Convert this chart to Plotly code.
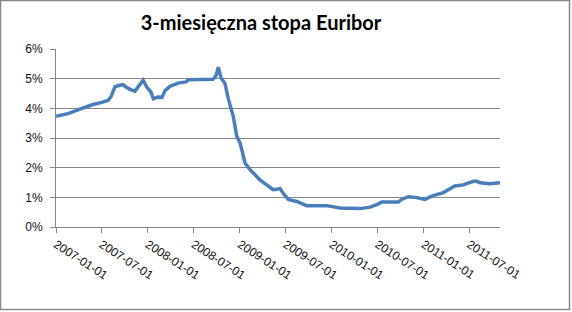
import plotly.graph_objects as go

# ---- data ----
dates = [
    "2007-01-01", "2007-02-18", "2007-04-06", "2007-05-28", "2007-07-03",
    "2007-07-27", "2007-08-08", "2007-08-15", "2007-08-23", "2007-09-04",
    "2007-09-24", "2007-10-06", "2007-10-22", "2007-11-11", "2007-11-27",
    "2007-12-13", "2007-12-29", "2008-01-13", "2008-01-23", "2008-02-10",
    "2008-02-26", "2008-03-09", "2008-03-29", "2008-04-30", "2008-05-31",
    "2008-06-10", "2008-07-26", "2008-09-16", "2008-09-28", "2008-10-07",
    "2008-10-18", "2008-11-02", "2008-11-16", "2008-11-29", "2008-12-05",
    "2008-12-19", "2009-01-01", "2009-01-08", "2009-01-21", "2009-02-10",
    "2009-03-02", "2009-03-21", "2009-04-17", "2009-05-13", "2009-05-28",
    "2009-06-09", "2009-06-22", "2009-07-12", "2009-08-14", "2009-09-23",
    "2009-12-12", "2010-02-02", "2010-04-23", "2010-06-02", "2010-06-28",
    "2010-07-18", "2010-09-22", "2010-10-05", "2010-11-01", "2010-12-04",
    "2011-01-06", "2011-02-02", "2011-02-28", "2011-03-20", "2011-04-15",
    "2011-05-05", "2011-06-07", "2011-06-27", "2011-07-17", "2011-07-30",
    "2011-08-13", "2011-09-21", "2011-10-31",
]
rates = [
    3.73, 3.82, 3.97, 4.13, 4.20,
    4.27, 4.40, 4.55, 4.72, 4.76,
    4.80, 4.72, 4.64, 4.58, 4.78,
    4.95, 4.70, 4.55, 4.32, 4.38,
    4.37, 4.60, 4.74, 4.85, 4.89,
    4.96, 4.97, 4.98, 5.10, 5.39,
    5.02, 4.85, 4.31, 3.91, 3.74,
    3.06, 2.84, 2.61, 2.16, 1.93,
    1.76, 1.59, 1.42, 1.26, 1.27,
    1.30, 1.13, 0.93, 0.86, 0.72,
    0.72, 0.64, 0.62, 0.67, 0.75,
    0.84, 0.84, 0.93, 1.02, 0.99,
    0.93, 1.04, 1.11, 1.16, 1.29,
    1.38, 1.42, 1.48, 1.54, 1.54,
    1.49, 1.46, 1.49,
]
tick_dates = [
    "2007-01-01", "2007-07-01", "2008-01-01", "2008-07-01", "2009-01-01",
    "2009-07-01", "2010-01-01", "2010-07-01", "2011-01-01", "2011-07-01",
]
y_ticks = [0, 1, 2, 3, 4, 5, 6]
y_labels = ["0%", "1%", "2%", "3%", "4%", "5%", "6%"]
title_text = "3-miesięczna stopa Euribor"

W, H = 572, 312
L, R, T, B = 56, 500, 49, 227
pw, ph = R - L, B - T

fig = go.Figure()
fig.add_trace(go.Scatter(
    x=dates, y=rates, mode="lines",
    line=dict(color="rgb(74,126,187)", width=3.5),
    showlegend=False, hoverinfo="skip",
))

fig.update_layout(
    width=W, height=H,
    margin=dict(l=L, r=W - R, t=T, b=H - B, pad=0),
    paper_bgcolor="white", plot_bgcolor="white",
    title=dict(text=title_text, x=(261 - L) / pw, xref="paper", xanchor="center",
               y=1 - 23 / H, yanchor="middle",
               font=dict(family="Lato", size=20, color="black", weight="bold")),
    font=dict(family="Liberation Sans", size=12, color="#111"),
    xaxis=dict(
        type="date", range=["2007-01-01", dates[-1]],
        tickvals=tick_dates, ticktext=tick_dates, tickangle=33,
        showgrid=False, showline=True, linecolor="#868686", linewidth=1,
        ticks="outside", ticklen=5, tickcolor="#868686",
        zeroline=False,
    ),
    yaxis=dict(
        range=[0, 6], tickvals=y_ticks, ticktext=y_labels,
        showgrid=True, gridcolor="#868686", gridwidth=1,
        showline=True, linecolor="#868686", linewidth=1,
        ticks="outside", ticklen=5, tickcolor="#868686",
        ticklabelstandoff=5, zeroline=False,
    ),
)

fig.add_shape(type="rect", xref="paper", yref="paper",
              x0=(0.5 - L) / pw, x1=(569.5 - L) / pw,
              y0=(B - 309.5) / ph, y1=(B - 0.5) / ph,
              line=dict(color="#888888", width=1.5), layer="below")

fig.write_html("out.html")
